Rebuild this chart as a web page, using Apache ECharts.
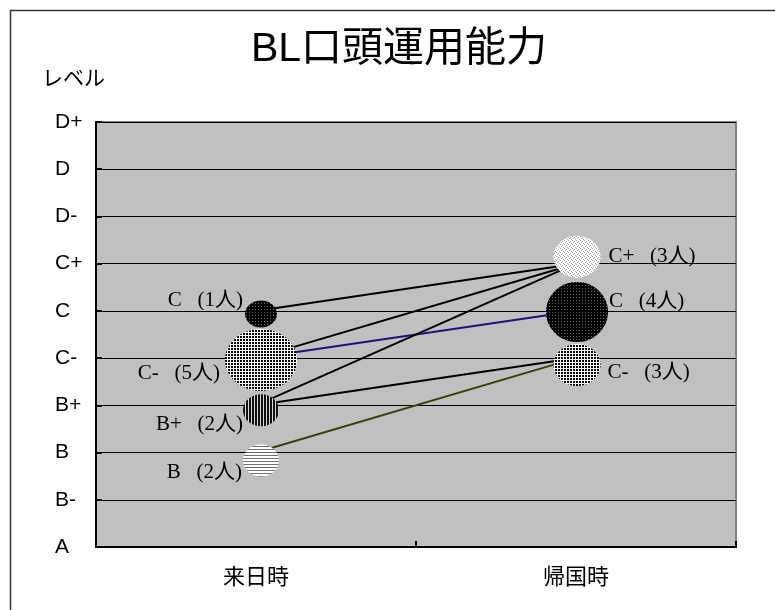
<!DOCTYPE html>
<html>
<head>
<meta charset="utf-8">
<script src="https://cdn.jsdelivr.net/npm/echarts@6/dist/echarts.min.js"></script>
<style>
  html, body { margin: 0; padding: 0; background: #fff; }
  #chart { width: 775px; height: 610px; }
</style>
</head>
<body>
<div id="chart"></div>
<script>
// ---- data ----
const levelNames = ['A', 'B-', 'B', 'B+', 'C-', 'C', 'C+', 'D-', 'D', 'D+'];
const stages = ['来日時', '帰国時'];

// groups on arrival: grade and number of learners
const arrivalGrades = ['C', 'C-', 'B+', 'B'];
const arrivalCounts = [1, 5, 2, 2];

// groups on return: grade and number of learners
const returnGrades = ['C+', 'C', 'C-'];
const returnCounts = [3, 4, 3];

// movement between groups: [arrival group, return group]
const transitions = [[0, 0], [1, 0], [1, 1], [2, 0], [2, 2], [3, 2]];

// ---- styling ----
const BUBBLE_SIZE = { 1: [32, 27], 2: [36, 32], 3: [47, 42], 4: [62, 60], 5: [72, 62] };

function pattern(rows) {
  const h = rows.length, w = rows[0].length;
  const c = document.createElement('canvas');
  c.width = w; c.height = h;
  const ctx = c.getContext('2d');
  for (let y = 0; y < h; y++) {
    for (let x = 0; x < w; x++) {
      ctx.fillStyle = rows[y][x];
      ctx.fillRect(x, y, 1, 1);
    }
  }
  return { image: c, repeat: 'repeat' };
}
const K = '#000', W = '#fff';
const fills = {
  darkDots: pattern([['#6a6a6a', K, K], [K, K, K], [K, K, K]]),
  grid: pattern([[K, K, W], [K, K, W], [W, W, W]]),
  vStripes: pattern([['#111', '#111', '#d8d8d8']]),
  hStripes: pattern([[W], [W], ['#707070']]),
  lightDots: pattern([['#9a9a9a', W, W, W], [W, W, '#9a9a9a', W], [W, '#b0b0b0', W, W], [W, W, W, '#b0b0b0']])
};

// per-bubble look: fill, small nudge of the drawn disc, label placement
const arrivalLook = [
  { fill: 'darkDots', nudge: [5, 3],  distance: 2, dy: -13 },
  { fill: 'grid',     nudge: [5, 2],  distance: 5, dy: 13 },
  { fill: 'vStripes', nudge: [5, 5],  distance: 0, dy: 14 },
  { fill: 'hStripes', nudge: [5, 8],  distance: 1, dy: 12 }
];
const returnLook = [
  { fill: 'lightDots', nudge: [1, -7], distance: 8, dy: 0 },
  { fill: 'darkDots',  nudge: [1, 1],  distance: 1, dy: -10 },
  { fill: 'grid',      nudge: [1, 7],  distance: 7, dy: 7 }
];
const transitionColors = ['#000', '#000', '#22107a', '#000', '#000', '#3e3e0a'];

const labelFont = '"Liberation Serif", "Noto Sans CJK JP", serif';
const sansFont = '"Liberation Sans", "Noto Sans CJK JP", sans-serif';

// one record per bubble, combining data and look
const groups = [];
arrivalGrades.forEach((g, i) => groups.push({ stage: 0, grade: g, count: arrivalCounts[i], look: arrivalLook[i], side: 'left' }));
returnGrades.forEach((g, i) => groups.push({ stage: 1, grade: g, count: returnCounts[i], look: returnLook[i], side: 'right' }));

const lineSeries = transitions.map((t, i) => ({
  type: 'line',
  z: 2,
  silent: true,
  symbol: 'none',
  lineStyle: { color: transitionColors[i], width: 2 },
  data: [
    [0, levelNames.indexOf(arrivalGrades[t[0]])],
    [1, levelNames.indexOf(returnGrades[t[1]])]
  ]
}));

const bubbleSeries = {
  type: 'custom',
  coordinateSystem: 'cartesian2d',
  z: 5,
  silent: true,
  encode: { x: 0, y: 1 },
  data: groups.map((g, i) => [g.stage, levelNames.indexOf(g.grade), i]),
  renderItem(params, api) {
    const g = groups[api.value(2)];
    const p = api.coord([api.value(0), api.value(1)]);
    const size = BUBBLE_SIZE[g.count];
    const rx = size[0] / 2, ry = size[1] / 2;
    const cx = p[0] + g.look.nudge[0], cy = p[1] + g.look.nudge[1];
    const left = g.side === 'left';
    return {
      type: 'group',
      children: [
        {
          type: 'ellipse',
          shape: { cx: cx, cy: cy, rx: rx, ry: ry },
          style: { fill: fills[g.look.fill], stroke: null }
        },
        {
          type: 'text',
          x: left ? cx - rx - g.look.distance : cx + rx + g.look.distance,
          y: cy + g.look.dy,
          style: {
            text: g.grade + '   (' + g.count + '人)',
            fill: '#000',
            fontSize: 21,
            fontFamily: labelFont,
            align: left ? 'right' : 'left',
            verticalAlign: 'middle'
          }
        }
      ]
    };
  }
};

const chart = echarts.init(document.getElementById('chart'), null, { renderer: 'canvas' });
chart.setOption({
  animation: false,
  backgroundColor: '#fff',
  grid: {
    left: 96, right: 39, top: 122, bottom: 63,
    show: true, backgroundColor: '#c0c0c0', borderColor: '#808080', borderWidth: 2
  },
  graphic: [
    {
      type: 'rect', z: -10, silent: true,
      shape: { x: 10.5, y: 10.5, width: 900, height: 800 },
      style: { fill: null, stroke: '#333', lineWidth: 1.5 }
    },
    {
      type: 'text', silent: true, x: 399, y: 50,
      style: {
        text: 'BL口頭運用能力', fontSize: 41, fontFamily: sansFont,
        fill: '#000', align: 'center', verticalAlign: 'middle'
      }
    },
    {
      type: 'text', silent: true, x: 42, y: 79,
      style: {
        text: 'レベル', fontSize: 21, fontFamily: sansFont,
        fill: '#000', align: 'left', verticalAlign: 'middle'
      }
    }
  ],
  xAxis: {
    type: 'category',
    data: stages,
    boundaryGap: true,
    axisLine: { lineStyle: { color: '#000', width: 2 } },
    axisTick: { show: true, inside: true, length: 6, lineStyle: { color: '#000', width: 2 } },
    axisLabel: { color: '#000', fontSize: 22, fontFamily: sansFont, margin: 20 },
    splitLine: { show: false }
  },
  yAxis: {
    type: 'value',
    min: 0, max: 9, interval: 1,
    axisLine: { show: true, lineStyle: { color: '#000', width: 2 } },
    axisTick: { show: true, inside: true, length: 6, lineStyle: { color: '#000', width: 2 } },
    axisLabel: {
      color: '#000', fontSize: 21, fontFamily: sansFont, margin: 41, align: 'left',
      formatter: v => levelNames[v]
    },
    splitLine: { show: true, lineStyle: { color: '#000', width: 1 } }
  },
  series: lineSeries.concat([bubbleSeries])
});
</script>
</body>
</html>
